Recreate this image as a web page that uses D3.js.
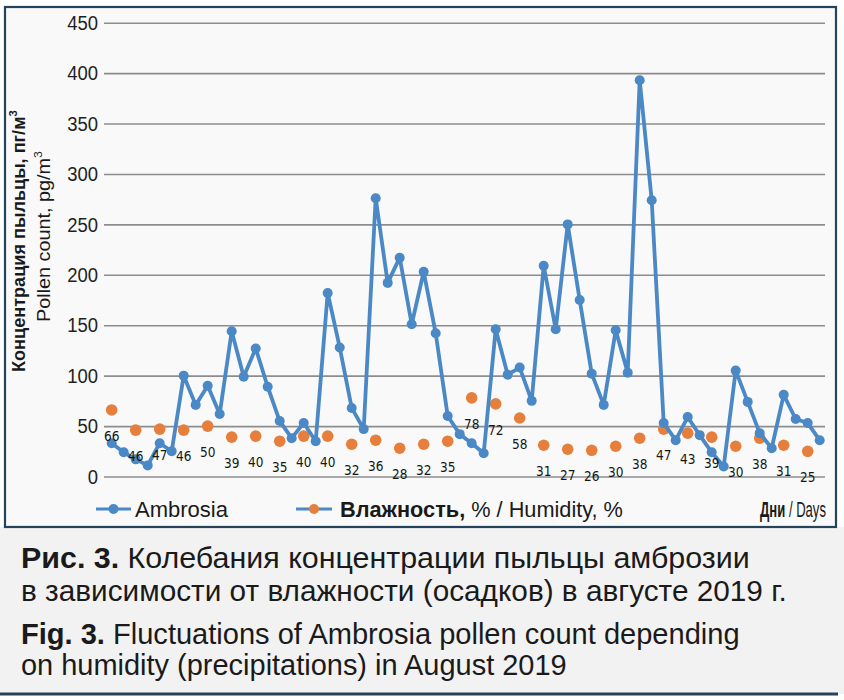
<!DOCTYPE html>
<html><head><meta charset="utf-8">
<script src="https://cdn.jsdelivr.net/npm/d3@7"></script>
<style>body{margin:0;background:#fff}</style></head>
<body>
<svg id="c" width="844" height="700"></svg>
<script>
const days = [1,2,3,4,5,6,7,8,9,10,11,12,13,14,15,16,17,18,19,20,21,22,23,24,25,26,27,28,29,30,
  31,32,33,34,35,36,37,38,39,40,41,42,43,44,45,46,47,48,49,50,51,52,53,54,55,56,57,58,59,60];
const ambrosia = [33,24,17,11,33,25,100,71,90,62,144,99,127,89,55,38,53,35,182,128,
  68,47,276,192,217,151,203,142,60,42,33,23,146,101,108,75,209,146,250,175,
  102,71,145,103,393,274,53,36,59,41,24,10,105,74,43,28,81,57,53,36];
const humidityDays = [1,3,5,7,9,11,13,15,17,19,21,23,25,27,29,31,33,35,37,39,41,43,45,47,49,51,53,55,57,59];
const humidity = [66,46,47,46,50,39,40,35,40,40,32,36,28,32,35,78,72,58,31,27,26,30,38,47,43,39,30,38,31,25];
const yTicks = [0,50,100,150,200,250,300,350,400,450];

const BLUE = "#4a88c6", ORANGE = "#e77f3c", FRAME = "#23445b";
const SANS = "'Liberation Sans',Arial,sans-serif";

const svg = d3.select("#c");

// backgrounds
svg.append("rect").attr("x",0).attr("y",0).attr("width",844).attr("height",700).attr("fill","#ffffff");
svg.append("rect").attr("x",0).attr("y",527).attr("width",844).attr("height",167).attr("fill","#f2f2f2");
svg.append("rect").attr("x",5).attr("y",7).attr("width",831).attr("height",520)
  .attr("fill","#f9f9f9").attr("stroke",FRAME).attr("stroke-width",2.2);
svg.append("line").attr("x1",0).attr("x2",838).attr("y1",694).attr("y2",694)
  .attr("stroke",FRAME).attr("stroke-width",3);

const x = d3.scalePoint().domain(days).range([111.7, 819.7]);
const y = d3.scaleLinear().domain([0,450]).range([476.5, 22.7]);

// y axis with gridlines
const yAxis = svg.append("g").attr("transform","translate(825,0)")
  .call(d3.axisLeft(y).tickValues(yTicks).tickSize(721).tickPadding(6));
yAxis.select(".domain").remove();
yAxis.selectAll(".tick line").attr("stroke","#8d8d8d").attr("stroke-width",1.6);
yAxis.selectAll(".tick text").attr("font-family",SANS).attr("font-size",21).attr("fill","#1f1f1f")
  .attr("transform",function(){ return `translate(${-727},0) scale(0.88,1) translate(${727},0)`; });

// humidity dots
svg.append("g").selectAll("circle").data(humidity).join("circle")
  .attr("cx",(d,i)=>x(humidityDays[i])).attr("cy",d=>y(d)).attr("r",5.8).attr("fill",ORANGE);

// ambrosia line
svg.append("path").datum(ambrosia)
  .attr("d", d3.line().x((d,i)=>x(days[i])).y(d=>y(d)))
  .attr("fill","none").attr("stroke",BLUE).attr("stroke-width",3.8).attr("stroke-linejoin","round");
svg.append("g").selectAll("circle").data(ambrosia).join("circle")
  .attr("cx",(d,i)=>x(days[i])).attr("cy",d=>y(d)).attr("r",5).attr("fill",BLUE);

// humidity labels
svg.append("g").selectAll("text").data(humidity).join("text")
  .attr("x",(d,i)=>x(humidityDays[i])).attr("y",d=>y(d)+26)
  .attr("dy","0.35em").attr("text-anchor","middle")
  .attr("font-family","'DejaVu Sans Condensed',sans-serif").attr("font-size",13.5)
  .attr("fill","#161616").text(d=>d);

// helper: text made of parts, scaled to a target width
function fitText(g, parts, x0, base, target, size, rotate){
  const t = g.append("text").attr("font-family",SANS).attr("font-size",size).attr("fill","#1a1a1a");
  parts.forEach(p=>{
    const s = t.append("tspan").text(p.t);
    if(p.b) s.attr("font-weight","bold");
    if(p.sup) s.attr("font-size",size*0.62).attr("dy",-size*0.42);
  });
  const w = t.node().getComputedTextLength();
  const sx = target / w;
  if(rotate) t.attr("transform",`translate(${x0},${base}) rotate(-90) scale(${sx},1)`);
  else t.attr("transform",`translate(${x0},${base}) scale(${sx},1)`);
  return t;
}

// y title
fitText(svg,[{t:"Концентрация пыльцы, пг/м",b:true},{t:"3",b:true,sup:true}],25,372,262,19,true);
fitText(svg,[{t:"Pollen count, pg/m"},{t:"3",sup:true}],50,322,171,18,true);

// legend
const lg = svg.append("g");
lg.append("line").attr("x1",96).attr("x2",131).attr("y1",509).attr("y2",509).attr("stroke",BLUE).attr("stroke-width",3);
lg.append("circle").attr("cx",113.5).attr("cy",509).attr("r",5).attr("fill",BLUE);
lg.append("line").attr("x1",296).attr("x2",332).attr("y1",509).attr("y2",509).attr("stroke",BLUE).attr("stroke-width",3);
lg.append("circle").attr("cx",314).attr("cy",509).attr("r",5).attr("fill",ORANGE);
fitText(lg,[{t:"Ambrosia"}],135,517,93,22);
fitText(lg,[{t:"Влажность,",b:true},{t:" % / Humidity, %"}],340,517,283,22);
fitText(lg,[{t:"Дни",b:true},{t:" / Days"}],760,517,66,22);

// caption
fitText(svg,[{t:"Рис. 3.",b:true},{t:" Колебания концентрации пыльцы амброзии"}],21,568,729,29);
fitText(svg,[{t:"в зависимости от влажности (осадков) в августе 2019 г."}],21,601,766,29);
fitText(svg,[{t:"Fig. 3.",b:true},{t:" Fluctuations of Ambrosia pollen count depending"}],21,644,719,29);
fitText(svg,[{t:"on humidity (precipitations) in August 2019"}],21,675,546,29);
</script>
</body></html>
